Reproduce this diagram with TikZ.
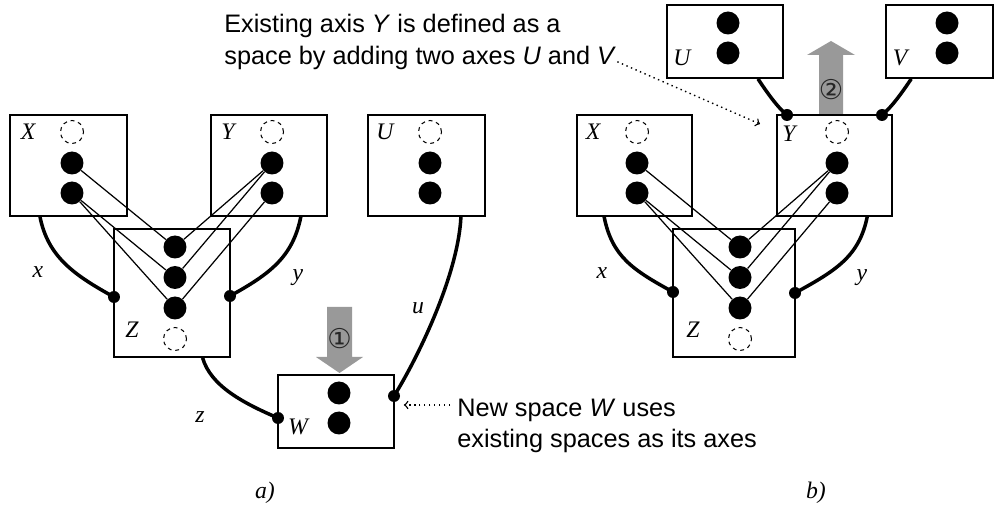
\documentclass[tikz,border=0pt]{standalone}
\usepackage{fontspec}
\setmainfont{Liberation Serif}
\newfontfamily\notefont{Liberation Sans}
\newfontfamily\numfont{DejaVu Sans}
\usetikzlibrary{calc}

\begin{document}
\begin{tikzpicture}[x=0.02cm, y=-0.02cm,
		space/.style={draw, line width=1pt, inner sep=0pt},
		full/.style={circle, fill, minimum size=0.46cm, inner sep=0pt},
		empty/.style={circle, draw, dash pattern=on 2.2pt off 2.2pt, line width=0.6pt, minimum size=0.46cm, inner sep=0pt},
		joint/.style={circle, fill, minimum size=0.24cm, inner sep=0pt},
		lbl/.style={font=\fontsize{13.5}{14}\selectfont\itshape, inner sep=0pt},
		link/.style={line width=2pt},
		map/.style={line width=0.7pt},
		note/.style={font=\notefont\fontsize{14.4}{17.8}\selectfont, align=left, anchor=west, inner sep=0pt},
		hint/.style={dotted, line width=0.8pt, ->},
		bigarrow/.style={fill=black!40}]
			\useasboundingbox (0,0) rectangle (995,506);

			% a) spaces
			\node[space, minimum width=2.34cm, minimum height=2.02cm] (Xa) at (68.5,165.5) {};
			\node[space, minimum width=2.32cm, minimum height=2.02cm] (Ya) at (269,165.5) {};
			\node[space, minimum width=2.34cm, minimum height=2.02cm] (Ua) at (426.5,165.5) {};
			\node[space, minimum width=2.32cm, minimum height=2.56cm] (Za) at (172,293) {};
			\node[space, minimum width=2.32cm, minimum height=1.46cm] (Wa) at (336,411.5) {};

			% b) spaces
			\node[space, minimum width=2.30cm, minimum height=2.02cm] (Xb) at (634.5,165.5) {};
			\node[space, minimum width=2.30cm, minimum height=2.02cm] (Yb) at (834.5,165.5) {};
			\node[space, minimum width=2.44cm, minimum height=2.56cm] (Zb) at (734,293) {};
			\node[space, minimum width=2.32cm, minimum height=1.46cm] (Ub) at (725,41.5) {};
			\node[space, minimum width=2.14cm, minimum height=1.46cm] (Vb) at (939.5,41.5) {};

			% axes
			\foreach \s / \x in {Xa/72, Ya/272, Ua/430, Xb/637, Yb/837} {
				\node[empty] (\s0) at (\x,132) {};
				\node[full] (\s1) at (\x,163) {};
				\node[full] (\s2) at (\x,193) {};
			}
			\foreach \s / \x in {Za/175, Zb/740} {
				\node[full] (\s1) at (\x,247) {};
				\node[full] (\s2) at (\x,277.5) {};
				\node[full] (\s3) at (\x,308) {};
				\node[empty] (\s0) at (\x,339) {};
			}
			\node[full] (Wa1) at (339,393) {};
			\node[full] (Wa2) at (339,423) {};
			\node[full] (Ub1) at (728,23) {};
			\node[full] (Ub2) at (728,53) {};
			\node[full] (Vb1) at (947,23) {};
			\node[full] (Vb2) at (947,53) {};

			\foreach \z in {a,b} {
				\foreach \from / \to in {X\z1/Z\z1, X\z2/Z\z2, X\z2/Z\z3, Y\z1/Z\z1, Y\z1/Z\z2, Y\z2/Z\z3}
					\path (\from) edge[map] (\to);
			}

			% joints
			\node[joint] (Jxa) at (114,297) {};
			\node[joint] (Jya) at (230,296) {};
			\node[joint] (Jza) at (278,418) {};
			\node[joint] (Jua) at (394,396) {};
			\node[joint] (Jxb) at (673,292) {};
			\node[joint] (Jyb) at (795,293) {};
			\node[joint] (Jub) at (787,115) {};
			\node[joint] (Jvb) at (882,115) {};

			% links
			\draw[link] ($(Xa.south west)!.26!(Xa.south east)$) .. controls +(8,40) and +(-40,-22) .. (Jxa.center);
			\draw[link] ($(Ya.south west)!.77!(Ya.south east)$) .. controls +(-8,40) and +(40,-22) .. (Jya.center);
			\draw[link] ($(Za.south west)!.76!(Za.south east)$) .. controls +(8,28) and +(-35,-15) .. (Jza.center);
			\draw[link] ($(Ua.south west)!.79!(Ua.south east)$) .. controls +(-3,60) and +(22,-35) .. (Jua.center);
			\draw[link] ($(Xb.south west)!.24!(Xb.south east)$) .. controls +(8,40) and +(-40,-22) .. (Jxb.center);
			\draw[link] ($(Yb.south west)!.78!(Yb.south east)$) .. controls +(-8,40) and +(40,-22) .. (Jyb.center);
			\draw[link] ($(Ub.south west)!.78!(Ub.south east)$) .. controls +(8,12) and +(-10,-8) .. (Jub.center);
			\draw[link] ($(Vb.south west)!.24!(Vb.south east)$) .. controls +(-8,12) and +(10,-8) .. (Jvb.center);

			% labels
			\node[lbl] (lXa) at (28,132) {X};
			\node[lbl] (lYa) at (228,132) {Y};
			\node[lbl] (lUa) at (385,132) {U};
			\node[lbl] (lZa) at (132,330) {Z};
			\node[lbl] (lWa) at (298,427) {W};
			\node[lbl] (lXb) at (593,132) {X};
			\node[lbl] (lYb) at (789,134) {Y};
			\node[lbl] (lZb) at (693,330) {Z};
			\node[lbl] (lUb) at (682,58) {U};
			\node[lbl] (lVb) at (900,58) {V};
			\node[lbl] (lxa) at (38,272) {x};
			\node[lbl] (lya) at (298,278) {y};
			\node[lbl] (lza) at (200,417) {z};
			\node[lbl] (lua) at (418,308) {u};
			\node[lbl] (lxb) at (602,273) {x};
			\node[lbl] (lyb) at (862,278) {y};
			\node[lbl] (capa) at (265,493) {a)};
			\node[lbl] (capb) at (816,493) {b)};

			% steps
			\fill[bigarrow] (327,307) -- (352,307) -- (352,357) -- (363,357) -- (339.5,373) -- (316,357) -- (327,357) -- cycle;
			\node[font=\numfont\fontsize{15.5}{16}\selectfont, inner sep=0pt, text=black!85] (s1) at (339.5,339) {①};
			\fill[bigarrow] (819,114) -- (843,114) -- (843,55) -- (855,55) -- (831,41) -- (807,55) -- (819,55) -- cycle;
			\node[font=\numfont\fontsize{15.5}{16}\selectfont, inner sep=0pt, text=black!85] (s2) at (831,90) {②};

			% notes
			\node[note] (noteY) at (224,42) {Existing axis \textit{Y} is defined as a\\space by adding two axes \textit{U} and \textit{V}};
			\coordinate (tipY) at (760,124);
			\draw[hint] ($(noteY.south east)+(1,-8)$) -- (tipY);
			\node[note] (noteW) at (457,426) {New space \textit{W} uses\\existing spaces as its axes};
			\draw[hint] ($(noteW.west)+(-7,-21)$) -- ($(Wa.east)+(9,-6.5)$);
		\end{tikzpicture}
\end{document}
